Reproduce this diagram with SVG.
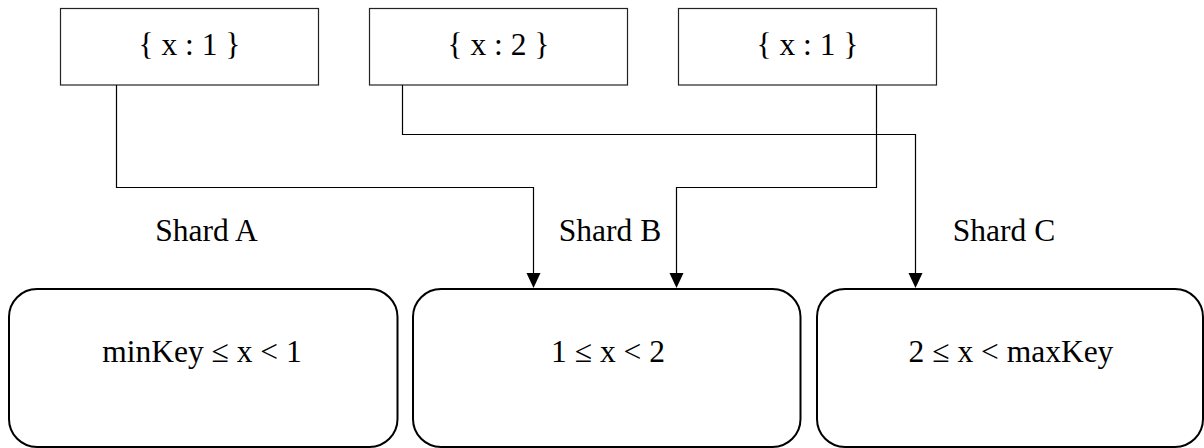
<svg xmlns="http://www.w3.org/2000/svg" width="1204" height="448" viewBox="0 0 1204 448">
<style>
.box{fill:#fff;stroke:#222;stroke-width:1.2}
.shard{fill:#fff;stroke:#000;stroke-width:2}
.conn{fill:none;stroke:#000;stroke-width:1.2}
text{font-family:"Liberation Serif","Times New Roman",serif;font-size:31.5px;fill:#000;text-anchor:middle}
</style>
<rect width="1204" height="448" fill="#fff"/>
<g id="doc1"><rect class="box" x="60.5" y="8.5" width="258" height="76.5"/><text x="189.5" y="55">{ x : 1 }</text></g>
<g id="doc2"><rect class="box" x="369.5" y="8.5" width="258" height="76.5"/><text x="498.5" y="55">{ x : 2 }</text></g>
<g id="doc3"><rect class="box" x="678.5" y="8.5" width="258" height="76.5"/><text x="807.5" y="55">{ x : 1 }</text></g>
<g id="connectors">
<path class="conn" d="M116.5,85 V187.5 H533.5 V273"/>
<path class="conn" d="M402.5,85 V134.5 H915.5 V273"/>
<path class="conn" d="M876.5,85 V187.5 H676.5 V273"/>
<path d="M526.5,273 L540.5,273 L533.5,288 Z" fill="#000"/>
<path d="M908.5,273 L922.5,273 L915.5,288 Z" fill="#000"/>
<path d="M669.5,273 L683.5,273 L676.5,288 Z" fill="#000"/>
</g>
<g id="shardA"><text x="206.5" y="241">Shard A</text><rect class="shard" x="9" y="289" width="388.5" height="158" rx="28" ry="28"/><text x="202" y="362">minKey ≤ x &lt; 1</text></g>
<g id="shardB"><text x="610" y="241">Shard B</text><rect class="shard" x="413" y="289" width="387.5" height="158" rx="28" ry="28"/><text x="608" y="362">1 ≤ x &lt; 2</text></g>
<g id="shardC"><text x="1004" y="241">Shard C</text><rect class="shard" x="817" y="289" width="386" height="158" rx="28" ry="28"/><text x="1011" y="362">2 ≤ x &lt; maxKey</text></g>
</svg>
